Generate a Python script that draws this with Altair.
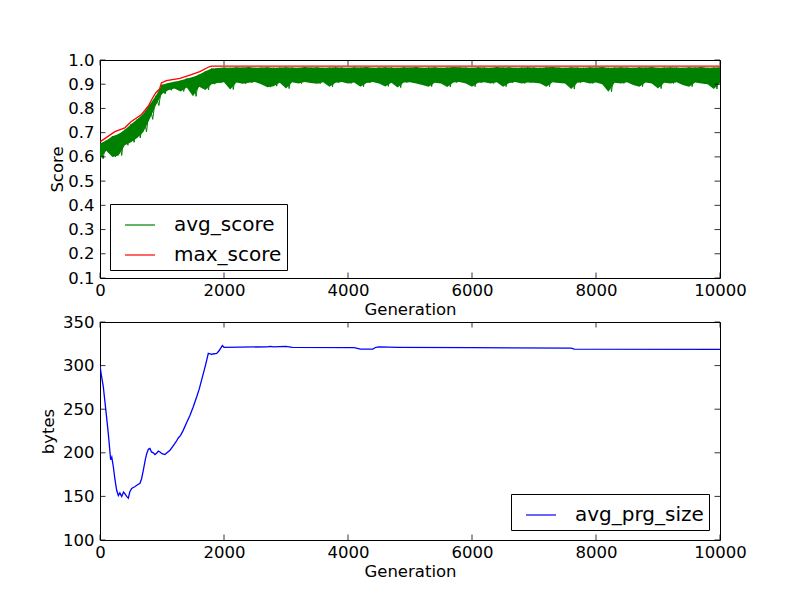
import altair as alt
import pandas as pd

# ---------------- data ----------------
gens = list(range(0, 10001, 100))
avg_hi = [0.655, 0.668, 0.685, 0.695, 0.712, 0.735, 0.755, 0.778, 0.815, 0.852,
          0.898, 0.905, 0.910, 0.915, 0.924, 0.930, 0.940, 0.954, 0.965, 0.967,
          0.969, 0.968, 0.970, 0.969, 0.971, 0.968, 0.969, 0.970, 0.968, 0.969,
          0.970, 0.969, 0.968, 0.971, 0.969, 0.970, 0.968, 0.969, 0.970, 0.969,
          0.968, 0.970, 0.969, 0.971, 0.968, 0.969, 0.970, 0.969, 0.968, 0.970,
          0.969, 0.971, 0.968, 0.969, 0.970, 0.968, 0.969, 0.971, 0.970, 0.969,
          0.968, 0.970, 0.969, 0.968, 0.971, 0.969, 0.970, 0.968, 0.969, 0.970,
          0.969, 0.968, 0.970, 0.971, 0.969, 0.968, 0.970, 0.969, 0.968, 0.970,
          0.969, 0.971, 0.968, 0.969, 0.970, 0.969, 0.968, 0.970, 0.969, 0.971,
          0.968, 0.969, 0.970, 0.969, 0.968, 0.970, 0.969, 0.971, 0.968, 0.969,
          0.970]
avg_lo = [0.592, 0.625, 0.600, 0.606, 0.648, 0.660, 0.678, 0.703, 0.755, 0.812,
          0.860, 0.875, 0.882, 0.870, 0.886, 0.850, 0.890, 0.876, 0.900, 0.905,
          0.908, 0.878, 0.907, 0.902, 0.906, 0.909, 0.900, 0.888, 0.892, 0.906,
          0.882, 0.908, 0.903, 0.909, 0.905, 0.902, 0.908, 0.890, 0.906, 0.909,
          0.903, 0.907, 0.890, 0.905, 0.909, 0.903, 0.891, 0.906, 0.886, 0.907,
          0.908, 0.903, 0.897, 0.890, 0.906, 0.903, 0.889, 0.907, 0.909, 0.903,
          0.890, 0.906, 0.908, 0.903, 0.908, 0.890, 0.905, 0.909, 0.903, 0.907,
          0.906, 0.903, 0.890, 0.908, 0.905, 0.903, 0.880, 0.906, 0.909, 0.903,
          0.907, 0.900, 0.869, 0.906, 0.903, 0.908, 0.897, 0.890, 0.907, 0.903,
          0.882, 0.906, 0.903, 0.908, 0.897, 0.890, 0.907, 0.903, 0.900, 0.880,
          0.905]

max_gen = [0, 240, 400, 500, 670, 780, 830, 900, 960, 990, 1070, 1290, 1450,
           1610, 1760, 1800, 10000]
max_val = [0.662, 0.704, 0.720, 0.745, 0.775, 0.810, 0.835, 0.865, 0.880, 0.905,
           0.915, 0.924, 0.938, 0.952, 0.972, 0.975, 0.975]

size_gen = [0, 20, 53, 100, 134, 172, 190, 215, 240, 269, 296, 320, 350, 380,
            403, 430, 457, 480, 510, 560, 600, 645, 670, 699, 730, 753, 780,
            806, 830, 860, 887, 920, 940, 968, 1000, 1048, 1080, 1129, 1180,
            1230, 1263, 1300, 1344, 1400, 1452, 1500, 1559, 1600, 1667, 1700,
            1747, 1800, 1882, 1920, 1973, 2000, 2700, 2750, 2800, 3000, 3100,
            4100, 4200, 4400, 4450, 4500, 4800, 6000, 7600, 7650, 10000]
size_val = [300, 290, 276, 245, 222, 192, 195, 184, 170, 157, 151, 154, 150, 155,
            153, 150, 148, 155, 159, 161, 163, 165, 170, 180, 192, 199, 204,
            205, 201, 200, 198, 200, 202, 201, 199, 198, 200, 203, 208,
            213, 217, 220, 226, 235, 243, 252, 264, 273, 291, 300,
            314, 313, 314, 317, 323, 321, 321.5, 322, 321.5, 322, 321,
            320.5, 319, 319, 321, 321.5, 321, 320.5, 320, 319, 318.5]

x_ticks = [0, 2000, 4000, 6000, 8000, 10000]
score_ticks = [0.1, 0.2, 0.3, 0.4, 0.5, 0.6, 0.7, 0.8, 0.9, 1.0]
bytes_ticks = [100, 150, 200, 250, 300, 350]

# ---------------- styling ----------------
W, H = 620, 218
FONT = "DejaVu Sans"
FS = 16.5
TL = 5.5

xscale = alt.Scale(domain=[0, 10000], nice=False, zero=False)
score_scale = alt.Scale(domain=[0.1, 1.0], nice=False, zero=False)
bytes_scale = alt.Scale(domain=[100, 350], nice=False, zero=False)

X_AXIS = alt.Axis(title="Generation", values=x_ticks, format="d", labelFlush=False,
                  labelPadding=4, titlePadding=3)
SCORE_AXIS = alt.Axis(title="Score", values=score_ticks, format=".1f",
                      labelPadding=6, titlePadding=2)
BYTES_AXIS = alt.Axis(title="bytes", values=bytes_ticks, format="d",
                      labelPadding=6, titlePadding=6)


def legend_props(x, y):
    return alt.Legend(title=None, orient="none", legendX=x, legendY=y,
                      strokeColor="black", fillColor="white", padding=5,
                      cornerRadius=0, symbolType="stroke", symbolSize=900,
                      symbolStrokeWidth=1.2, symbolOpacity=1,
                      labelFont=FONT, labelFontSize=20,
                      labelColor="black", labelOffset=18, rowPadding=4,
                      symbolOffset=9, labelExpr="datum.label + '  '")


def tick_layers(yt, yscale, yaxis):
    xdf = pd.DataFrame({"t": x_ticks})
    ydf = pd.DataFrame({"v": yt})
    base_x = alt.Chart(xdf).mark_rule(color="black", strokeWidth=0.8)
    base_y = alt.Chart(ydf).mark_rule(color="black", strokeWidth=0.8)
    xb = base_x.encode(x=alt.X("t:Q", scale=xscale, axis=X_AXIS),
                       y=alt.value(H), y2=alt.value(H - TL))
    xt = base_x.encode(x=alt.X("t:Q", scale=xscale, axis=X_AXIS),
                       y=alt.value(0), y2=alt.value(TL))
    yl = base_y.encode(y=alt.Y("v:Q", scale=yscale, axis=yaxis),
                       x=alt.value(0), x2=alt.value(TL))
    yr = base_y.encode(y=alt.Y("v:Q", scale=yscale, axis=yaxis),
                       x=alt.value(W), x2=alt.value(W - TL))
    return [xb, xt, yl, yr]


# ---------------- top panel ----------------
band_df = pd.DataFrame({"gen": gens, "lo": avg_lo, "hi": avg_hi})
zig_rows = []
for g, h, l in zip(gens, avg_hi, avg_lo):
    zig_rows.append({"gen": g, "score": h, "series": "avg_score"})
    zig_rows.append({"gen": g + 50, "score": l, "series": "avg_score"})
zig_df = pd.DataFrame(zig_rows)
max_df = pd.DataFrame({"gen": max_gen, "score": max_val, "series": "max_score"})

top_color = alt.Color("series:N",
                      scale=alt.Scale(domain=["avg_score", "max_score"],
                                      range=["#008000", "#ff0000"]),
                      legend=legend_props(10, 144))

band = alt.Chart(band_df).mark_area(color="#008000", opacity=1, clip=True).encode(
    x=alt.X("gen:Q", scale=xscale, axis=X_AXIS),
    y=alt.Y("lo:Q", scale=score_scale, axis=SCORE_AXIS),
    y2="hi:Q",
)
zig = alt.Chart(zig_df).mark_line(strokeWidth=1, clip=True).encode(
    x=alt.X("gen:Q", scale=xscale, axis=X_AXIS),
    y=alt.Y("score:Q", scale=score_scale, axis=SCORE_AXIS),
    color=top_color,
)
maxline = alt.Chart(max_df).mark_line(strokeWidth=1.3, clip=True).encode(
    x=alt.X("gen:Q", scale=xscale, axis=X_AXIS),
    y=alt.Y("score:Q", scale=score_scale, axis=SCORE_AXIS),
    color=top_color,
)
top = alt.layer(band, zig, maxline,
                *tick_layers(score_ticks, score_scale, SCORE_AXIS)).properties(
    width=W, height=H)

# ---------------- bottom panel ----------------
size_df = pd.DataFrame({"gen": size_gen, "bytes": size_val, "series": "avg_prg_size"})
bot_color = alt.Color("series:N",
                      scale=alt.Scale(domain=["avg_prg_size"], range=["#0000ff"]),
                      legend=legend_props(411, 172))
sizeline = alt.Chart(size_df).mark_line(strokeWidth=1.3, clip=True).encode(
    x=alt.X("gen:Q", scale=xscale, axis=X_AXIS),
    y=alt.Y("bytes:Q", scale=bytes_scale, axis=BYTES_AXIS),
    color=bot_color,
)
bottom = alt.layer(sizeline,
                   *tick_layers(bytes_ticks, bytes_scale, BYTES_AXIS)).properties(
    width=W, height=H)

chart = alt.vconcat(top, bottom, spacing=-6).resolve_scale(
    color="independent").resolve_legend(color="independent").properties(
    padding={"left": 32, "top": 43, "right": 0, "bottom": 0},
    background="white",
).configure_view(stroke="black", strokeWidth=1).configure_axis(
    labelFont=FONT, labelFontSize=FS, labelColor="black",
    titleFont=FONT, titleFontSize=FS, titleFontWeight="normal", titleColor="black",
    ticks=False, domain=False, grid=False,
)

chart.save("out.html", embed_options={"renderer": "svg", "actions": False})
